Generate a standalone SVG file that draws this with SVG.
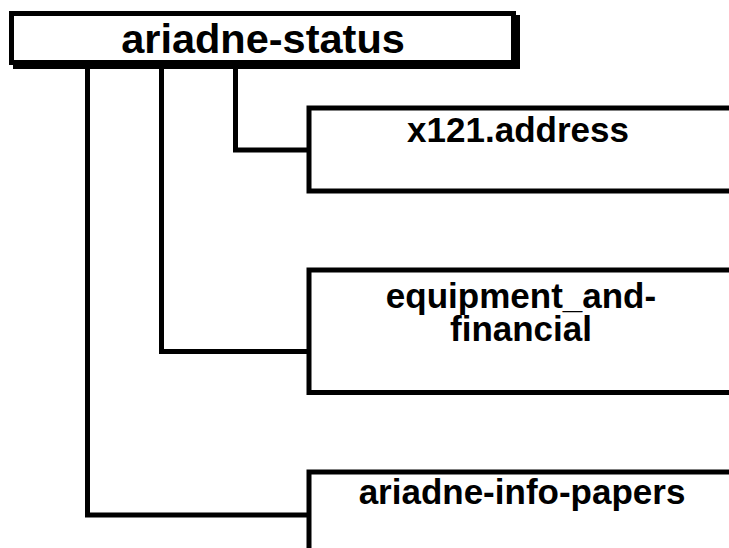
<svg xmlns="http://www.w3.org/2000/svg" width="729" height="548" viewBox="0 0 729 548">
  <style>
    .box { fill: #ffffff; stroke: #000000; stroke-width: 5; }
    .shadow { fill: #000000; stroke: none; }
    .conn { fill: none; stroke: #000000; stroke-width: 5; stroke-linejoin: miter; stroke-linecap: butt; }
    .lbl { font-family: "Liberation Sans", Arial, Helvetica, sans-serif; font-weight: bold; fill: #000000; text-anchor: middle; }
    .title { font-size: 41.5px; }
    .child { font-size: 35px; }
  </style>
  <rect width="729" height="548" fill="#ffffff"/>
  <g id="connectors">
    <path class="conn" d="M87.5 65 V515 H309"/>
    <path class="conn" d="M161.5 65 V351.5 H309"/>
    <path class="conn" d="M235.5 65 V150 H309"/>
  </g>
  <g id="node-ariadne-status">
    <rect class="shadow" x="13" y="15" width="507" height="54"/>
    <rect class="box" x="11.5" y="13.5" width="502" height="49"/>
    <text class="lbl title" x="263" y="52.5">ariadne-status</text>
  </g>
  <g id="node-x121-address">
    <rect class="box" x="309" y="108" width="430" height="83"/>
    <text class="lbl child" x="518" y="142">x121.address</text>
  </g>
  <g id="node-equipment-and-financial">
    <rect class="box" x="309" y="270" width="430" height="122.5"/>
    <text class="lbl child" x="521" y="308">equipment_and-</text>
    <text class="lbl child" x="521" y="341">financial</text>
  </g>
  <g id="node-ariadne-info-papers">
    <rect class="box" x="309" y="472" width="430" height="100"/>
    <text class="lbl child" x="522" y="504">ariadne-info-papers</text>
  </g>
</svg>
